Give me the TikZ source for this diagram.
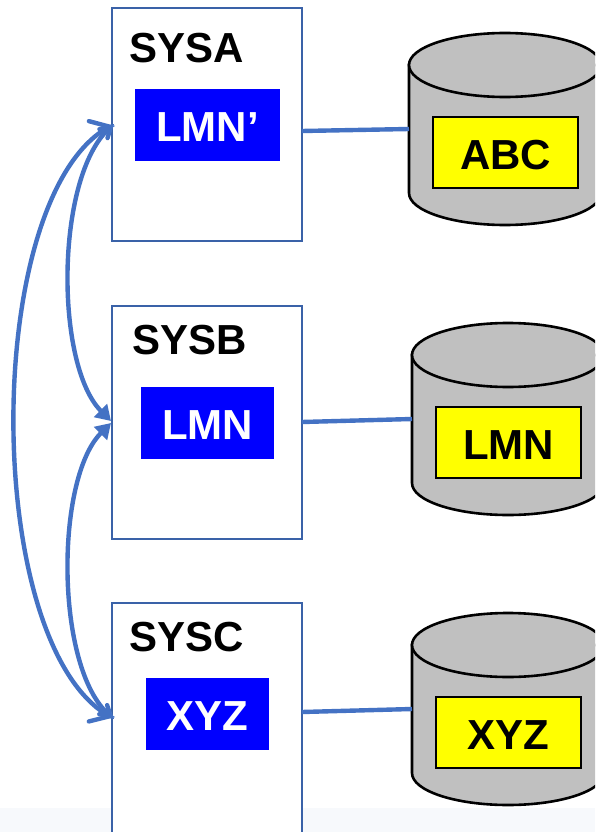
\documentclass[tikz,border=0pt]{standalone}
\usepackage{fontspec}
\setmainfont{Liberation Sans}
\usetikzlibrary{arrows.meta}
\definecolor{linkblue}{HTML}{4472C4}
\definecolor{framebl}{HTML}{3A62A8}
\definecolor{dbgray}{HTML}{C0C0C0}
\definecolor{floorbl}{HTML}{F7F9FC}
\definecolor{tagyellow}{RGB}{255,255,0}
\tikzset{
  sysbox/.style={draw=framebl,line width=2.4pt,fill=white,minimum width=190pt,outer sep=0pt,inner sep=0pt,anchor=north west},
  syslabel/.style={font=\fontsize{42}{42}\selectfont\bfseries,inner sep=0pt,text=black},
  progbox/.style={fill=blue,text=white,font=\fontsize{42}{42}\selectfont\bfseries,minimum height=72pt,inner sep=0pt,outer sep=0pt,text height=33pt,text depth=0pt},
  databox/.style={draw=black,line width=2.6pt,fill=tagyellow,text=black,font=\fontsize{42}{42}\selectfont\bfseries,minimum height=71pt,inner sep=0pt,outer sep=0pt,text height=33pt,text depth=0pt},
  link/.style={draw=linkblue,line width=4.4pt},
  peer/.style={draw=linkblue,line width=4.4pt,line cap=round},
  outerpeer/.style={peer,{Straight Barb[harpoon,length=15pt,width=30pt,line cap=round]}-{Straight Barb[harpoon,swap,length=15pt,width=30pt,line cap=round]}},
  innertop/.style={peer,{Straight Barb[length=10pt,width=12pt,line cap=round]}-{Triangle[length=15pt,width=18pt]}},
  innerbot/.style={peer,{Triangle[length=15pt,width=18pt]}-{Straight Barb[length=10pt,width=12pt,line cap=round]}},
  dbbody/.style={draw=black,line width=2.6pt,fill=dbgray}
}
\newcommand{\dbcyl}[4]{% name, centre x, top y, bottom y
  \path[dbbody] (#2-96,#3+32) -- (#2-96,#4-32)
     arc[start angle=180,end angle=360,x radius=96pt,y radius=32pt]
     -- (#2+96,#3+32) -- cycle;
  \path[dbbody] (#2,#3+32) ellipse (96pt and 32pt);
  \coordinate (#1) at (#2-96,#3+96);
}
\begin{document}
\begin{tikzpicture}[x=1pt,y=-1pt]
\useasboundingbox (0,0) rectangle (595,832);
\clip (0,0) rectangle (595,832);
\fill[white] (0,0) rectangle (595,832);
\fill[floorbl] (0,808) rectangle (595,832);

\node[sysbox,minimum height=233pt] (sysa) at (112,8) {};
\node[sysbox,minimum height=233pt] (sysb) at (112,306) {};
\node[sysbox,minimum height=245pt] (sysc) at (112,603) {};
\coordinate (sysaport) at (302,131);
\coordinate (sysbport) at (302,422);
\coordinate (syscport) at (302,712);
\coordinate (sysain) at (114,124);
\coordinate (sysbup) at (111,421);
\coordinate (sysbdn) at (111,423);
\coordinate (syscin) at (114,719);

\node[syslabel] (la) at (187,48) {SYSA};
\node[syslabel] (lb) at (190,340) {SYSB};
\node[syslabel] (lc) at (187,637) {SYSC};

\node[progbox,minimum width=145pt] (pa) at (207.5,125) {LMN’};
\node[progbox,minimum width=133pt] (pb) at (207.5,423) {LMN};
\node[progbox,minimum width=123pt] (pc) at (207.5,714) {XYZ};

\dbcyl{dba}{505}{33}{225}
\dbcyl{dbb}{508}{323}{515}
\dbcyl{dbc}{508}{613}{805}

\node[databox,minimum width=145pt] (da) at (505.5,152.5) {ABC};
\node[databox,minimum width=145pt] (db) at (508.5,442.5) {LMN};
\node[databox,minimum width=145pt] (dc) at (508.5,732.5) {XYZ};

\draw[link] (sysaport) -- (dba);
\draw[link] (sysbport) -- (dbb);
\draw[link] (syscport) -- (dbc);

\draw[innertop] (sysain) .. controls (55,178) and (55,365) .. (sysbup);
\draw[innerbot] (sysbdn) .. controls (55,479) and (55,668) .. (syscin);
\draw[outerpeer] (sysain) .. controls (-18,200) and (-18,640) .. (syscin);
\end{tikzpicture}
\end{document}
